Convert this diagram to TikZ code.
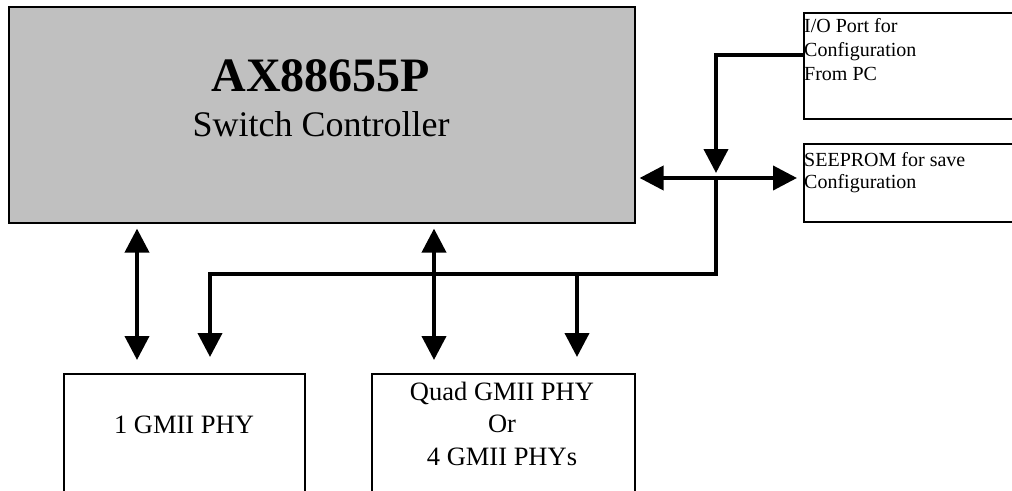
\documentclass[tikz,border=0pt]{standalone}
\usepackage{fontspec}
\setmainfont{Liberation Serif}
\usetikzlibrary{arrows.meta}
\begin{document}
\begin{tikzpicture}[x=1pt,y=-1pt,
  blk/.style={draw=black, line width=1.6pt, inner sep=0pt, anchor=north west},
  lbl/.style={inner sep=0pt},
  wire/.style={line width=4pt},
  tip/.tip={Triangle[length=24pt,width=24pt]},
  small/.style={lbl, anchor=base west, font=\fontsize{20}{20}\selectfont},
  mid/.style={lbl, anchor=base, font=\fontsize{26.5}{26.5}\selectfont}]
\useasboundingbox (0,0) rectangle (1012,490);
\clip (0,0) rectangle (1012,490);
% boxes
\node[blk, fill={rgb,255:red,192;green,192;blue,192}, minimum width=626pt, minimum height=216pt] (main) at (8,6) {};
\node[blk, minimum width=220pt, minimum height=106pt] (io) at (803,12) {};
\node[blk, minimum width=220pt, minimum height=78pt] (seeprom) at (803,143) {};
\node[blk, minimum width=241pt, minimum height=140pt] (phy1) at (63,373) {};
\node[blk, minimum width=263pt, minimum height=140pt] (quad) at (371,373) {};
% texts
\node[lbl, anchor=base, font=\fontsize{48}{48}\selectfont\bfseries] (title) at (321,91) {AX88655P};
\node[lbl, anchor=base, font=\fontsize{36}{36}\selectfont] (sub) at (321,136) {Switch Controller};
\node[small] (io1) at (804,32) {I/O Port for};
\node[small] (io2) at (804,56) {Configuration};
\node[small] (io3) at (804,80) {From PC};
\node[small] (se1) at (804,166) {SEEPROM for save};
\node[small] (se2) at (804,188) {Configuration};
\node[mid] (p1) at (184,433) {1 GMII PHY};
\node[mid] (q1) at (502,400) {Quad GMII PHY};
\node[mid] (q2) at (502,432.5) {Or};
\node[mid] (q3) at (502,465) {4 GMII PHYs};
% junctions
\coordinate (jio) at (716,55);
\coordinate (jx) at (716,178);
\coordinate (jb) at (716,274);
\coordinate (jl) at (210,274);
\coordinate (jr) at (577,274);
\coordinate (c1) at (137,0);
\coordinate (c2) at (434,0);
% connectors
\draw[wire, -{tip}, shorten >=5pt] (io.west |- jio) -- (jio) -- (jx);
\draw[wire, {tip}-{tip}, shorten <=4pt, shorten >=6pt] (main.east |- jx) -- (seeprom.west |- jx);
\draw[wire, -{tip}, shorten >=16pt] (jx) -- (jb) -- (jl) -- (phy1.north -| jl);
\draw[wire, -{tip}, shorten >=16pt] (jr) -- (quad.north -| jr);
\draw[wire, {tip}-{tip}, shorten <=5pt, shorten >=13pt] (main.south -| c1) -- (phy1.north -| c1);
\draw[wire, {tip}-{tip}, shorten <=5pt, shorten >=13pt] (main.south -| c2) -- (quad.north -| c2);
\end{tikzpicture}
\end{document}
